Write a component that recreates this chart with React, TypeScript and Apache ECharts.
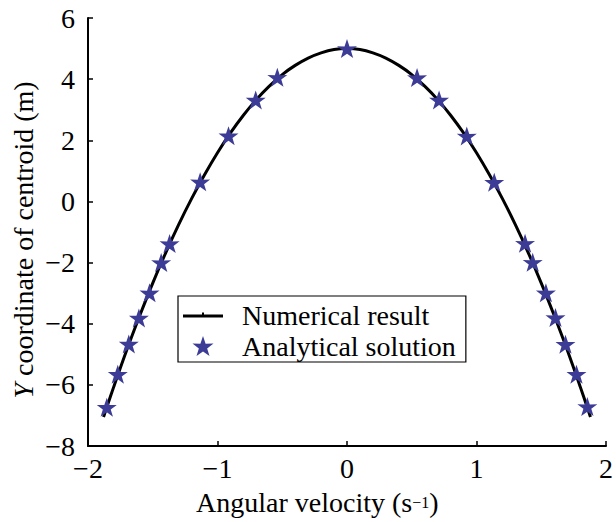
import React, { useEffect, useRef } from "react";
import * as echarts from "echarts";

// Numerical result (solid curve)
const lineX = [-1.88, -1.8, -1.7, -1.6, -1.5, -1.4, -1.3, -1.2, -1.1, -1.0, -0.9, -0.8, -0.7, -0.6, -0.5, -0.4, -0.3, -0.2, -0.1, 0, 0.1, 0.2, 0.3, 0.4, 0.5, 0.6, 0.7, 0.8, 0.9, 1.0, 1.1, 1.2, 1.3, 1.4, 1.5, 1.6, 1.7, 1.8, 1.88];
const lineY = [-7.05, -6.05, -4.85, -3.73, -2.67, -1.68, -0.76, 0.09, 0.87, 1.59, 2.24, 2.82, 3.33, 3.77, 4.15, 4.45, 4.69, 4.86, 4.97, 5.0, 4.97, 4.86, 4.69, 4.45, 4.15, 3.77, 3.33, 2.82, 2.24, 1.59, 0.87, 0.09, -0.76, -1.68, -2.67, -3.73, -4.85, -6.05, -7.05];

// Analytical solution (stars)
const starX = [-1.855, -1.77, -1.685, -1.607, -1.525, -1.435, -1.37, -1.134, -0.915, -0.705, -0.538, 0, 0.541, 0.711, 0.925, 1.137, 1.375, 1.434, 1.536, 1.61, 1.687, 1.772, 1.856];
const starY = [-6.73, -5.65, -4.66, -3.81, -2.99, -2.0, -1.38, 0.64, 2.15, 3.32, 4.06, 5.0, 4.05, 3.32, 2.14, 0.63, -1.37, -1.99, -2.99, -3.8, -4.67, -5.65, -6.71];

const seriesNames = ["Numerical result", "Analytical solution"];
const xTitle = "Angular velocity (s";
const xTitleSup = "−1";
const yTitleItalic = "Y";
const yTitleRest = " coordinate of centroid (m)";

const FONT = '"Times New Roman", "Liberation Serif", serif';
const STAR = "path://M50,0 L61.8,35.3 L97.6,34.5 L68.8,56.2 L79.4,90.5 L50,69.6 L20.6,90.5 L31.2,56.2 L2.4,34.5 L38.2,35.3 Z";
const LINE_ICON = "path://M0,2 L40,2 L40,5 L0,5 Z M19,0 L21,0 L21,2 L19,2 Z";

export default function App() {
  const ref = useRef<HTMLDivElement>(null);
  useEffect(() => {
    if (!ref.current) return;
    const chart = echarts.init(ref.current, null, { renderer: "svg" });
    const fmt = (v: number) => String(v).replace("-", "−");
    chart.setOption({
      animation: false,
      backgroundColor: "#ffffff",
      grid: { left: 88, right: 8, top: 18, bottom: 76, containLabel: false },
      xAxis: {
        type: "value",
        min: -2,
        max: 2,
        interval: 1,
        axisLine: { show: true, onZero: false, lineStyle: { color: "#000", width: 2 } },
        axisTick: { show: true, inside: true, length: 5, lineStyle: { color: "#000", width: 1.5 } },
        splitLine: { show: false },
        axisLabel: { color: "#000", fontSize: 28, fontFamily: FONT, margin: 8, formatter: fmt },
      },
      yAxis: {
        type: "value",
        min: -8,
        max: 6,
        interval: 2,
        axisLine: { show: true, onZero: false, lineStyle: { color: "#000", width: 2 } },
        axisTick: { show: true, inside: true, length: 5, lineStyle: { color: "#000", width: 1.5 } },
        splitLine: { show: false },
        axisLabel: { color: "#000", fontSize: 28, fontFamily: FONT, margin: 13, formatter: fmt },
      },
      legend: {
        orient: "vertical",
        left: 178,
        top: 296,
        padding: [5, 10, 2, 5],
        itemGap: 3,
        itemWidth: 40,
        itemHeight: 20,
        borderColor: "#000",
        borderWidth: 1.2,
        backgroundColor: "#fff",
        textStyle: { color: "#000", fontSize: 28, fontFamily: FONT, padding: [0, 0, 0, 14] },
        data: [
          { name: seriesNames[0], icon: LINE_ICON },
          { name: seriesNames[1] },
        ],
      },
      graphic: [
        {
          type: "text",
          left: 196,
          top: 488,
          style: {
            text: `{a|${xTitle}}{s|${xTitleSup}}{a|)}`,
            fill: "#000",
            rich: {
              a: { fontSize: 28, fontFamily: FONT, fill: "#000" },
              s: { fontSize: 16, fontFamily: FONT, fill: "#000", verticalAlign: "top", padding: [6, 0, 0, 0] },
            },
          },
        },
        {
          type: "text",
          x: 23,
          y: 240,
          rotation: Math.PI / 2,
          style: {
            text: `{i|${yTitleItalic}}{a|${yTitleRest}}`,
            align: "center",
            verticalAlign: "middle",
            fill: "#000",
            rich: {
              i: { fontSize: 28, fontFamily: FONT, fontStyle: "italic", fill: "#000" },
              a: { fontSize: 28, fontFamily: FONT, fill: "#000" },
            },
          },
        },
      ],
      series: [
        {
          name: seriesNames[0],
          type: "line",
          data: lineX.map((x, i) => [x, lineY[i]]),
          smooth: 0.4,
          showSymbol: false,
          symbol: "none",
          itemStyle: { color: "#000" },
          lineStyle: { color: "#000", width: 3 },
          z: 2,
        },
        {
          name: seriesNames[1],
          type: "scatter",
          data: starX.map((x, i) => [x, starY[i]]),
          symbol: STAR,
          symbolSize: [20, 19],
          itemStyle: { color: "#3c3c96", opacity: 1 },
          z: 3,
        },
      ],
    });
    return () => chart.dispose();
  }, []);
  return <div ref={ref} style={{ position: "absolute", left: 0, top: 0, width: 616, height: 522 }} />;
}
